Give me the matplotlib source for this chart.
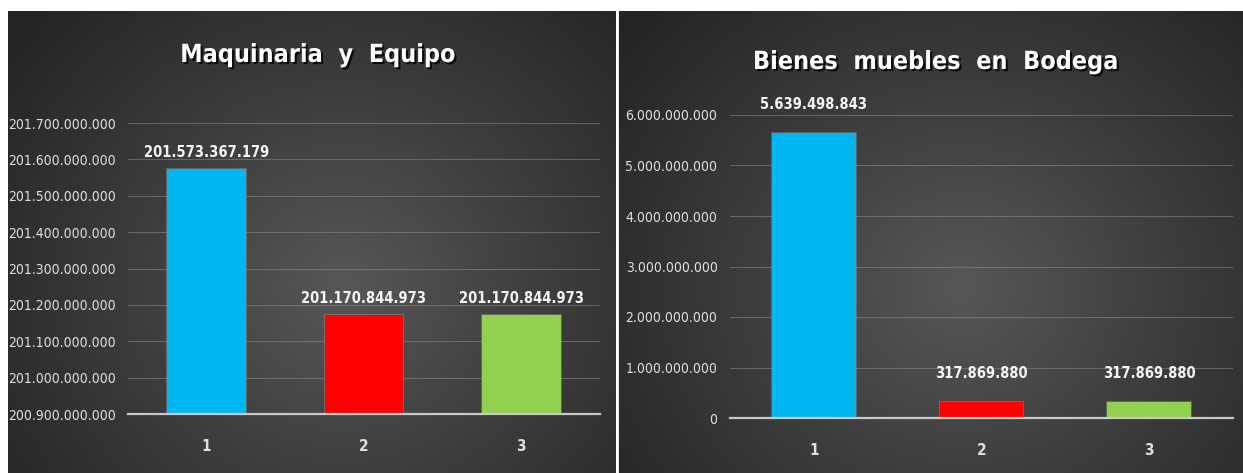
import numpy as np
import matplotlib
matplotlib.use("Agg")
import matplotlib.pyplot as plt
import matplotlib.patheffects as pe
from matplotlib.colors import LinearSegmentedColormap
from matplotlib.ticker import FuncFormatter, MultipleLocator

plt.rcParams['font.family'] = ['DejaVu Sans']
plt.rcParams['font.stretch'] = 'condensed'

# data
categories = ["1", "2", "3"]
maquinaria = [201573367179, 201170844973, 201170844973]
bodega = [5639498843, 317869880, 317869880]
bar_colors = ["#00B7F1", "#FF0000", "#92D050"]
titles = ["Maquinaria  y  Equipo", "Bienes  muebles  en  Bodega"]


def fmt_dots(v, pos=None):
    return "{:,.0f}".format(v).replace(",", ".")


W, H = 1243, 473
fig = plt.figure(figsize=(W / 100, H / 100), dpi=100)
fig.patch.set_facecolor("white")

bg_cmap = LinearSegmentedColormap.from_list("bg", ["#575757", "#3c3c3c", "#242424"])


def panel_background(rect, cx=0.55, cy=0.4):
    bg = fig.add_axes(rect, zorder=0)
    xx, yy = np.meshgrid(np.linspace(0, 1, 300), np.linspace(0, 1, 300))
    r = np.sqrt((xx - cx) ** 2 + ((yy - cy) * 0.8) ** 2)
    bg.imshow(r, cmap=bg_cmap, extent=(0, 1, 0, 1), aspect="auto",
              origin="lower", vmin=0, vmax=0.7)
    bg.set_axis_off()


panel_background([8 / W, 0, 608 / W, 462 / H])
panel_background([618 / W, 0, 625 / W, 462 / H])


def bar_panel(rect, values, ylim, step, title, title_xy, label_pad):
    ax = fig.add_axes(rect, zorder=2)
    ax.set_facecolor("none")
    x = np.arange(len(values))
    bars = ax.bar(x, [v - ylim[0] for v in values], bottom=ylim[0], width=0.5,
                  color=bar_colors, zorder=3)
    for b in bars:
        b.set_path_effects([pe.withStroke(linewidth=1.5, foreground="#ffffff30")])
    for xi, v in zip(x, values):
        ax.text(xi, v + label_pad, fmt_dots(v), ha="center", va="bottom",
                color="#f4f4f4", fontsize=10.5, fontweight="bold", zorder=4)
    ax.set_ylim(*ylim)
    ax.set_xlim(-0.5, len(values) - 0.5)
    ax.yaxis.set_major_locator(MultipleLocator(step))
    ax.yaxis.set_major_formatter(FuncFormatter(fmt_dots))
    ax.set_xticks(x)
    ax.set_xticklabels(categories, fontweight="bold")
    ax.grid(axis="y", color="#8a8a8a", linewidth=0.8, alpha=0.55, zorder=1)
    for s in ["top", "right", "left"]:
        ax.spines[s].set_visible(False)
    ax.spines["bottom"].set_color("#c8c8c8")
    ax.spines["bottom"].set_linewidth(1.6)
    ax.spines["bottom"].set_zorder(5)
    ax.tick_params(axis="y", length=0, colors="#e0e0e0", labelsize=10, pad=9)
    ax.tick_params(axis="x", length=0, colors="#e0e0e0", labelsize=11, pad=18)
    fig.text(title_xy[0], title_xy[1], title, ha="center", va="center",
             color="white", fontsize=18, fontweight="bold",
             path_effects=[pe.withSimplePatchShadow(offset=(1.5, -1.5),
                                                    shadow_rgbFace="black", alpha=0.8)])
    return ax


bar_panel([128 / W, (H - 414) / H, 472 / W, 291 / H], maquinaria,
          (200900000000, 201700000000), 100000000, titles[0],
          (318 / W, (H - 55) / H), 25000000)
bar_panel([730 / W, (H - 418) / H, 503 / W, 303 / H], bodega,
          (0, 6000000000), 1000000000, titles[1],
          (936 / W, (H - 62) / H), 420000000)

# white divider between the panels
fig.add_artist(plt.Line2D([617 / W, 617 / W], [0, 462 / H], color="white",
                          linewidth=2, transform=fig.transFigure, zorder=10))

fig.savefig("out.png", dpi=100, facecolor=fig.get_facecolor())
